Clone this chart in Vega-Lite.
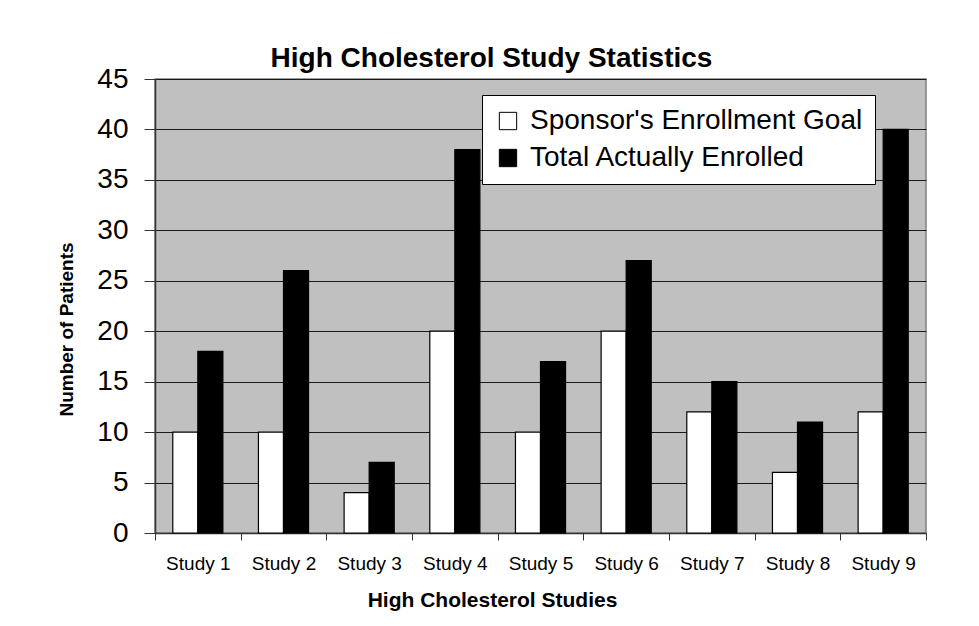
{
  "$schema": "https://vega.github.io/schema/vega-lite/v6.json",
  "width": 771,
  "height": 454,
  "autosize": {"type": "none"},
  "padding": {"left": 155, "top": 79, "right": 53, "bottom": 93},
  "background": "white",
  "title": {
    "text": "High Cholesterol Study Statistics",
    "font": "Liberation Sans",
    "fontSize": 28,
    "fontWeight": "bold",
    "color": "black",
    "anchor": "middle",
    "offset": -8,
    "dx": -49
  },
  "data": {
    "values": [
      {"study": "Study 1", "series": "Sponsor's Enrollment Goal", "patients": 10},
      {"study": "Study 1", "series": "Total Actually Enrolled", "patients": 18},
      {"study": "Study 2", "series": "Sponsor's Enrollment Goal", "patients": 10},
      {"study": "Study 2", "series": "Total Actually Enrolled", "patients": 26},
      {"study": "Study 3", "series": "Sponsor's Enrollment Goal", "patients": 4},
      {"study": "Study 3", "series": "Total Actually Enrolled", "patients": 7},
      {"study": "Study 4", "series": "Sponsor's Enrollment Goal", "patients": 20},
      {"study": "Study 4", "series": "Total Actually Enrolled", "patients": 38},
      {"study": "Study 5", "series": "Sponsor's Enrollment Goal", "patients": 10},
      {"study": "Study 5", "series": "Total Actually Enrolled", "patients": 17},
      {"study": "Study 6", "series": "Sponsor's Enrollment Goal", "patients": 20},
      {"study": "Study 6", "series": "Total Actually Enrolled", "patients": 27},
      {"study": "Study 7", "series": "Sponsor's Enrollment Goal", "patients": 12},
      {"study": "Study 7", "series": "Total Actually Enrolled", "patients": 15},
      {"study": "Study 8", "series": "Sponsor's Enrollment Goal", "patients": 6},
      {"study": "Study 8", "series": "Total Actually Enrolled", "patients": 11},
      {"study": "Study 9", "series": "Sponsor's Enrollment Goal", "patients": 12},
      {"study": "Study 9", "series": "Total Actually Enrolled", "patients": 40}
    ]
  },
  "mark": {"type": "bar", "stroke": "black", "strokeWidth": 1.2},
  "encoding": {
    "x": {
      "field": "study",
      "type": "nominal",
      "sort": null,
      "scale": {"paddingInner": 0, "paddingOuter": 0},
      "axis": {
        "title": "High Cholesterol Studies",
        "titleFont": "Liberation Sans",
        "titleFontSize": 21,
        "titleFontWeight": "bold",
        "titleColor": "black",
        "titleX": 337,
        "titleY": 67,
        "titleBaseline": "middle",
        "titleAnchor": "middle",
        "labelAngle": 0,
        "labelFont": "Liberation Sans",
        "labelFontSize": 19,
        "labelColor": "black",
        "labelPadding": 14,
        "tickBand": "extent",
        "tickSize": 7,
        "tickColor": "#333333",
        "domainColor": "#333333",
        "domainWidth": 1.5,
        "grid": false
      }
    },
    "xOffset": {
      "field": "series",
      "type": "nominal",
      "scale": {"paddingInner": 0, "paddingOuter": 0.71}
    },
    "y": {
      "field": "patients",
      "type": "quantitative",
      "scale": {"domain": [0, 45], "nice": false},
      "axis": {
        "title": "Number of Patients",
        "titleFont": "Liberation Sans",
        "titleFontSize": 19,
        "titleFontWeight": "bold",
        "titleColor": "black",
        "titleAngle": -90,
        "titleX": -89,
        "titleY": 250,
        "titleBaseline": "middle",
        "titleAlign": "center",
        "values": [0, 5, 10, 15, 20, 25, 30, 35, 40, 45],
        "labelFont": "Liberation Sans",
        "labelFontSize": 28,
        "labelColor": "black",
        "labelPadding": 16,
        "tickSize": 11,
        "tickColor": "#333333",
        "domainColor": "#333333",
        "domainWidth": 1.5,
        "grid": true,
        "gridColor": "#1a1a1a",
        "gridWidth": 1
      }
    },
    "fill": {
      "field": "series",
      "type": "nominal",
      "scale": {"domain": ["Sponsor's Enrollment Goal", "Total Actually Enrolled"], "range": ["white", "black"]},
      "legend": {
        "title": null,
        "orient": "none",
        "legendX": 327,
        "legendY": 16,
        "direction": "vertical",
        "fillColor": "white",
        "strokeColor": "black",
        "padding": 12,
        "symbolType": "square",
        "symbolSize": 300,
        "symbolStrokeColor": "black",
        "symbolStrokeWidth": 1,
        "labelFont": "Liberation Sans",
        "labelFontSize": 28,
        "labelColor": "black",
        "labelOffset": 8,
        "labelLimit": 500,
        "rowPadding": 9
      }
    }
  },
  "config": {
    "view": {"fill": "#c0c0c0", "stroke": "#808080", "strokeWidth": 1.5}
  }
}
